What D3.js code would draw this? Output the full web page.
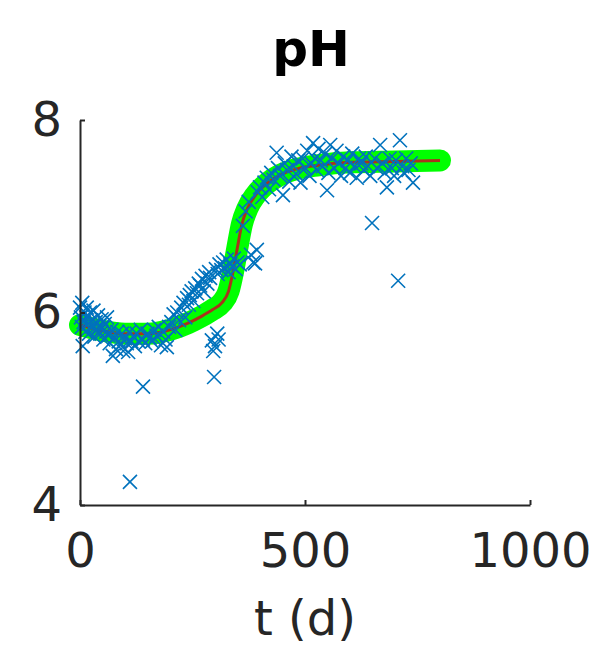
<!DOCTYPE html>
<html>
<head>
<meta charset="utf-8">
<script src="https://cdn.jsdelivr.net/npm/d3@7"></script>
<style>
  html, body { margin: 0; padding: 0; background: #fff; }
  svg { display: block; font-family: "DejaVu Sans", sans-serif; }
</style>
</head>
<body>
<svg id="chart" width="614" height="653"></svg>
<script>
/* pH over time: observations (x markers), fitted model (red) and its band (green). */
var W = 614, H = 653;
var X0 = 80, X1 = 530, Y0 = 505, Y1 = 120;

var xTicks = [0, 500, 1000];
var yTicks = [4, 6, 8];

// fitted curve
var tFit  = [0, 50, 100, 150, 200, 240, 270, 295, 315, 330, 340, 350, 360, 372, 390, 415, 445, 480, 530, 600, 700, 800];
var pHFit = [5.87, 5.81, 5.78, 5.78, 5.82, 5.89, 5.96, 6.03, 6.10, 6.22, 6.42, 6.68, 6.92, 7.08, 7.22, 7.34, 7.43, 7.49, 7.53, 7.56, 7.57, 7.58];

// observations (t in days, pH)
var tObs = [
  0, 2, 4, 5, 6, 8, 10, 12, 14, 15, 18, 20, 22, 25, 28, 30, 32, 35, 38, 40, 43, 45, 48, 50, 52, 55, 58, 60,
  63, 66, 70, 73, 76, 80, 83, 86, 90, 93, 96, 100, 104, 107, 110, 114, 118, 122, 126, 130, 135, 140, 140, 111,
  145, 150, 155, 160, 165, 170, 175, 180, 185, 190, 193, 198,
  203, 208, 212, 216, 220, 225, 230, 234, 238, 242, 244, 248, 252, 256, 260, 264, 267, 271, 275, 279, 283, 287, 289,
  293, 296, 298, 300, 305, 308, 302, 306, 310, 314, 318, 322, 326, 330, 334, 338, 342, 346, 350, 355,
  362, 368, 375, 380, 385, 389, 393, 395, 400, 405, 410, 415, 420,
  425, 430, 437, 440, 445, 451, 455, 460, 465, 470, 475, 480, 485, 490, 495, 500, 505, 510, 514, 518, 522, 526,
  530, 535, 540, 545, 549, 552, 556, 560, 565, 570, 575, 580, 585, 590, 595, 600, 605, 610, 615, 620, 625, 630,
  635, 640, 645, 649, 655, 660, 667, 672, 677, 682, 688, 693, 698, 702, 707, 711, 716, 720, 725, 730, 735, 740
];
var pHObs = [
  6.05, 5.95, 5.85, 6.10, 5.65, 5.90, 6.00, 5.80, 5.95, 6.05, 5.88, 5.78, 6.00, 5.92, 5.85, 6.02, 5.75, 5.90, 5.82, 5.97, 5.86, 5.78, 5.93, 5.84, 5.72, 5.88, 5.80, 5.95,
  5.76, 5.68, 5.82, 5.55, 5.74, 5.62, 5.80, 5.70, 5.66, 5.78, 5.60, 5.73, 5.68, 5.59, 5.80, 5.70, 5.75, 5.65, 5.78, 5.70, 5.82, 5.72, 5.23, 4.24,
  5.68, 5.78, 5.74, 5.70, 5.82, 5.76, 5.85, 5.66, 5.80, 5.72, 5.64, 5.85,
  5.90, 5.98, 5.82, 6.00, 5.92, 6.05, 6.10, 5.95, 6.15, 6.08, 6.18, 6.22, 6.12, 6.25, 6.20, 6.30, 6.28, 6.35, 6.22, 6.38, 6.30, 6.42, 6.36,
  5.71, 5.60, 5.33, 5.65, 5.78, 5.72, 6.45, 6.40, 6.50, 6.44, 6.52, 6.46, 6.55, 6.42, 6.50, 6.48, 6.56, 6.45, 6.52, 6.50,
  6.90, 7.05, 7.15, 6.60, 6.52, 6.51, 6.65, 7.25, 7.30, 7.20, 7.35, 7.40, 7.28,
  7.45, 7.38, 7.66, 7.50, 7.42, 7.22, 7.55, 7.48, 7.36, 7.62, 7.52, 7.44, 7.58, 7.35, 7.60, 7.50, 7.68, 7.42, 7.55, 7.76, 7.60, 7.48,
  7.70, 7.58, 7.52, 7.65, 7.27, 7.45, 7.74, 7.60, 7.50, 7.68, 7.55, 7.42, 7.62, 7.50, 7.58, 7.45, 7.65, 7.52, 7.40, 7.60, 7.55, 7.48,
  7.62, 7.52, 7.42, 6.93, 7.60, 7.50, 7.74, 7.55, 7.45, 7.30, 7.60, 7.50, 7.42, 7.58, 6.33, 7.79, 7.52, 7.45, 7.60, 7.48, 7.55, 7.35
];

var AX = "#262626", FS = 48;
var svg = d3.select("#chart");
var x = d3.scaleLinear().domain([0, 1000]).range([X0, X1]);
var y = d3.scaleLinear().domain([4, 8]).range([Y0, Y1]);

var fit = tFit.map(function (t, i) { return [t, pHFit[i]]; });
var line = d3.line().x(function (d) { return x(d[0]); }).y(function (d) { return y(d[1]); }).curve(d3.curveMonotoneX);

svg.append("path").attr("d", line(fit)).attr("fill", "none")
  .attr("stroke", "#00ff00").attr("stroke-width", 22).attr("stroke-linecap", "round").attr("stroke-linejoin", "round");
svg.append("path").attr("d", line(fit)).attr("fill", "none")
  .attr("stroke", "#a8341c").attr("stroke-width", 3);

var obs = tObs.map(function (t, i) { return [t, pHObs[i]]; });
var R = 7;
svg.append("g").selectAll("path.mk").data(obs).enter().append("path")
  .attr("class", "mk")
  .attr("d", function (d) {
    var cx = x(d[0]), cy = y(d[1]);
    return "M" + (cx - R) + "," + (cy - R) + "L" + (cx + R) + "," + (cy + R) +
           "M" + (cx - R) + "," + (cy + R) + "L" + (cx + R) + "," + (cy - R);
  })
  .attr("fill", "none").attr("stroke", "#0072bd").attr("stroke-width", 1.6);

// axes (MATLAB style, box off, ticks inward)
var xAx = svg.append("g").attr("transform", "translate(0," + Y0 + ")")
  .call(d3.axisBottom(x).tickValues(xTicks).tickFormat(d3.format("d"))
    .tickSizeInner(-5).tickSizeOuter(0).tickPadding(28));
var yAx = svg.append("g").attr("transform", "translate(" + X0 + ",0)")
  .call(d3.axisLeft(y).tickValues(yTicks).tickFormat(d3.format("d"))
    .tickSizeInner(-5).tickSizeOuter(0).tickPadding(18));
[xAx, yAx].forEach(function (g) {
  g.select(".domain").attr("stroke", AX).attr("stroke-width", 2);
  g.selectAll(".tick line").attr("stroke", AX).attr("stroke-width", 2);
  g.selectAll(".tick text").attr("fill", AX).attr("font-size", FS).attr("font-family", "DejaVu Sans, sans-serif");
});
xAx.selectAll(".tick text").attr("dy", "0.71em");

svg.append("text").attr("x", (X0 + X1) / 2).attr("y", 635).attr("text-anchor", "middle")
  .attr("font-size", FS).attr("fill", AX).text("t (d)");
svg.append("text").attr("x", 311).attr("y", 66).attr("text-anchor", "middle")
  .attr("font-size", 50).attr("font-weight", "bold").attr("fill", "#000").text("pH");
</script>
</body>
</html>
